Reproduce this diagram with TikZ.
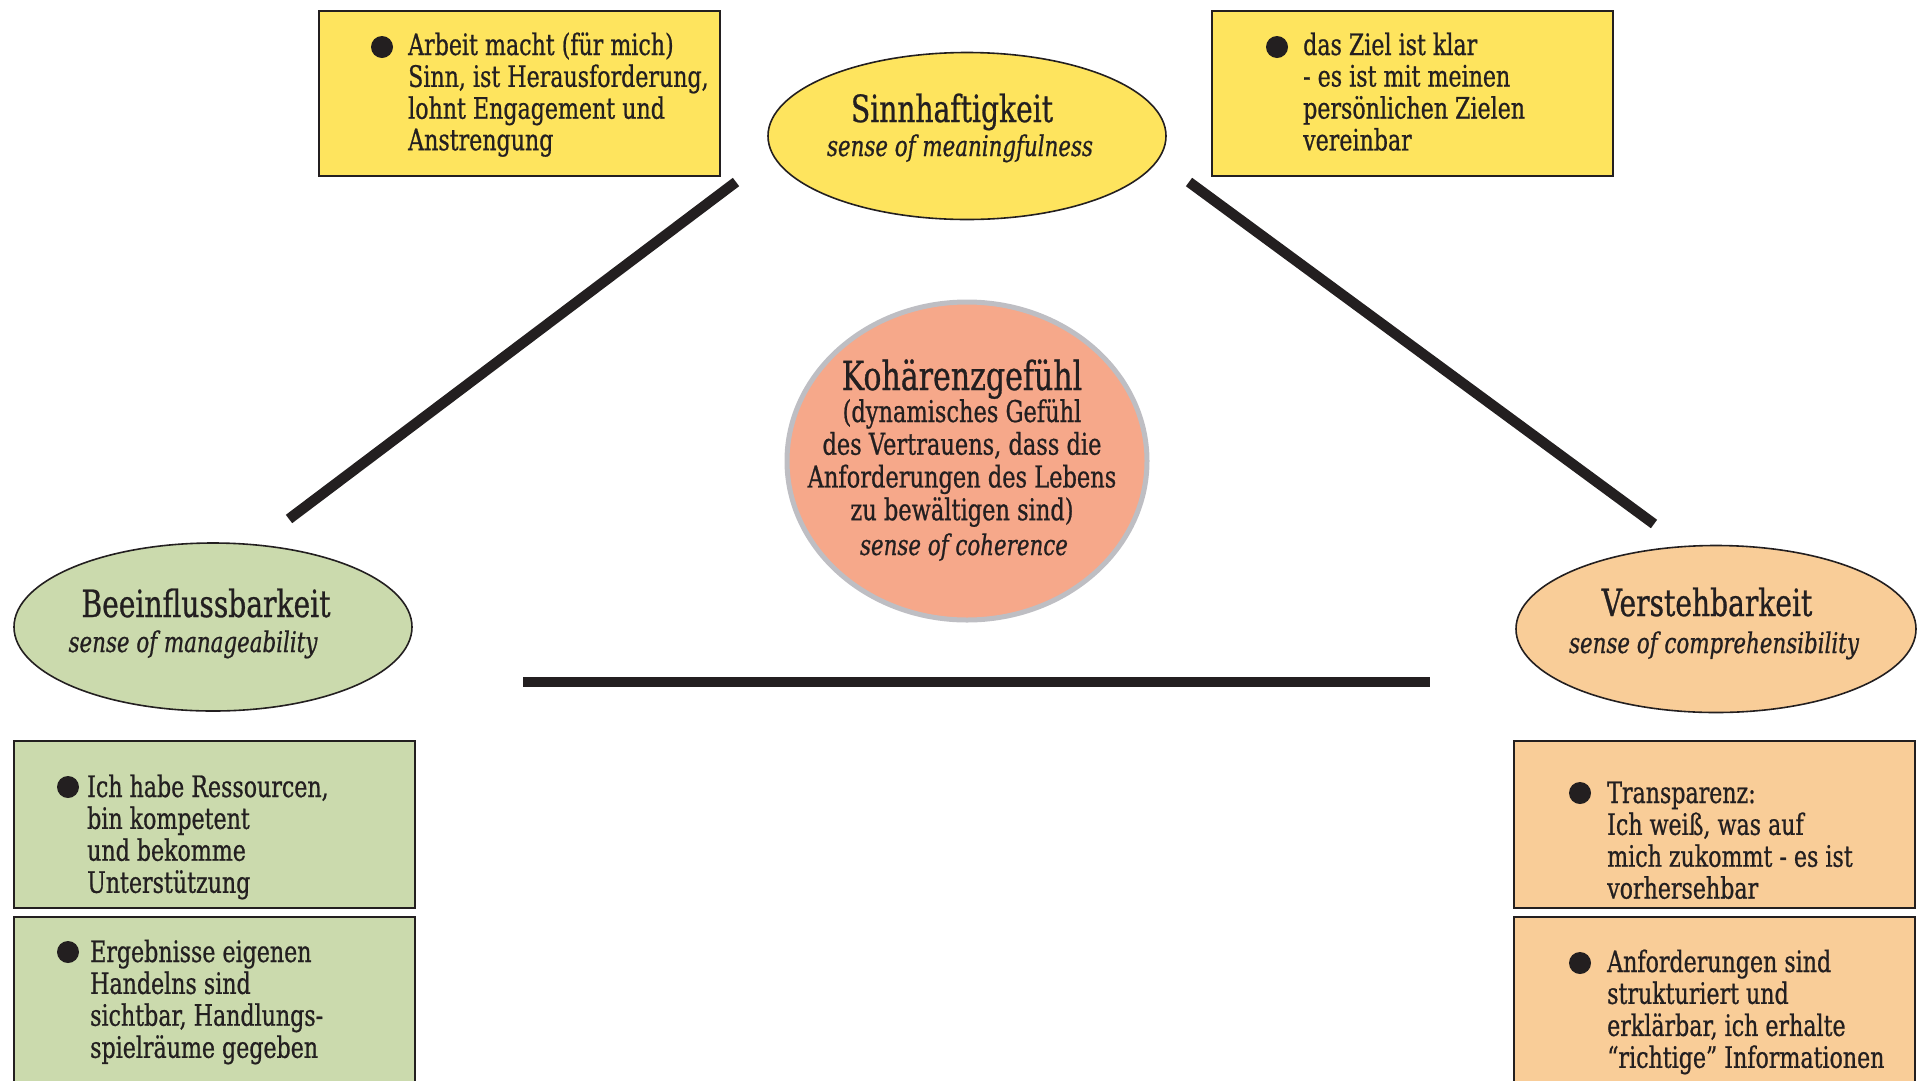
\documentclass[tikz,border=0pt]{standalone}
\usepackage{fontspec}
\setmainfont{DejaVu Serif}[FakeStretch=0.75, FakeBold=0.7]
\usetikzlibrary{shapes.geometric}
\definecolor{ink}{RGB}{35,31,32}
\definecolor{yellowc}{RGB}{254,228,94}
\definecolor{greenc}{RGB}{203,218,173}
\definecolor{orangec}{RGB}{249,205,152}
\definecolor{salmonc}{RGB}{246,168,138}
\definecolor{grayc}{RGB}{190,190,195}
\tikzset{
  ell/.style={ellipse, draw=ink, line width=1.6pt, inner sep=0pt},
  boxn/.style={rectangle, draw=ink, line width=2.2pt, inner sep=0pt, anchor=north west, minimum width=401pt},
  txt/.style={inner sep=0pt, anchor=base west, text=ink, font=\fontsize{29.5}{31.5}\selectfont},
  ttl/.style={inner sep=0pt, anchor=base, text=ink, font=\fontsize{37.5}{40}\selectfont},
  sub/.style={inner sep=0pt, anchor=base, text=ink, font=\itshape\fontsize{28.5}{30}\selectfont},
  bodyc/.style={inner sep=0pt, anchor=base, text=ink, font=\fontsize{30}{32.7}\selectfont},
  bar/.style={line width=10.5pt, draw=ink},
  bul/.style={circle, fill=ink, minimum size=22pt, inner sep=0pt}
}
\renewcommand{\arraystretch}{1}
\begin{document}
\begin{tikzpicture}[x=1pt, y=-1pt]
\useasboundingbox (0,0) rectangle (1920,1080);

% connectors
\coordinate (la) at (736,182);
\coordinate (lb) at (289,519);
\coordinate (ra) at (1189,182);
\coordinate (rb) at (1654,524);
\coordinate (ha) at (523,682);
\coordinate (hb) at (1430,682);
\draw[bar] (la) -- (lb);
\draw[bar] (ra) -- (rb);
\draw[bar] (ha) -- (hb);

% ellipses
\node[ell, fill=yellowc, minimum width=398pt, minimum height=167pt] (sinn) at (967,136) {};
\node[ttl] (sinnT) at (952,122) {Sinnhaftigkeit};
\node[sub] (sinnS) at (960,156) {sense of meaningfulness};

\node[ell, fill=greenc, minimum width=398pt, minimum height=168pt] (bein) at (213,627) {};
\node[ttl] (beinT) at (206,617) {Beeinflussbarkeit};
\node[sub] (beinS) at (193,652) {sense of manageability};

\node[ell, fill=orangec, minimum width=400pt, minimum height=167pt] (vers) at (1716,629) {};
\node[ttl] (versT) at (1707,616) {Verstehbarkeit};
\node[sub] (versS) at (1714,653) {sense of comprehensibility};

% centre
\node[ellipse, draw=grayc, line width=5pt, fill=salmonc, minimum width=360pt, minimum height=318pt, inner sep=0pt] (koh) at (967,461) {};
\node[ttl, font=\fontsize{40}{42}\selectfont] (kohT) at (962,390) {Kohärenzgefühl};
\node[bodyc] (kohB) at (962,422) {\begin{tabular}[t]{@{}c@{}}(dynamisches Gefühl\\des Vertrauens, dass die\\Anforderungen des Lebens\\zu bewältigen sind)\end{tabular}};
\node[sub] (kohS) at (964,555) {sense of coherence};

% top boxes
\node[boxn, fill=yellowc, minimum height=165pt] (tl) at (318,10) {};
\node[bul] (tlb) at (382,47) {};
\node[txt] (tlt) at (408,55) {\begin{tabular}[t]{@{}l@{}}Arbeit macht (für mich)\\Sinn, ist Herausforderung,\\lohnt Engagement und\\Anstrengung\end{tabular}};

\node[boxn, fill=yellowc, minimum height=165pt] (tr) at (1211,10) {};
\node[bul] (trb) at (1277,47) {};
\node[txt] (trt) at (1303,55) {\begin{tabular}[t]{@{}l@{}}das Ziel ist klar\\- es ist mit meinen\\persönlichen Zielen\\vereinbar\end{tabular}};

% left boxes
\node[boxn, fill=greenc, minimum height=167pt] (l1) at (13,740) {};
\node[bul] (l1b) at (68,787) {};
\node[txt] (l1t) at (87,797) {\begin{tabular}[t]{@{}l@{}}Ich habe Ressourcen,\\bin kompetent\\und bekomme\\Unterstützung\end{tabular}};

\node[boxn, fill=greenc, minimum height=180pt] (l2) at (13,916) {};
\node[bul] (l2b) at (68,952) {};
\node[txt] (l2t) at (90,962) {\begin{tabular}[t]{@{}l@{}}Ergebnisse eigenen\\Handelns sind\\sichtbar, Handlungs-\\spielräume gegeben\end{tabular}};

% right boxes
\node[boxn, fill=orangec, minimum height=167pt] (r1) at (1513,740) {};
\node[bul] (r1b) at (1580,793) {};
\node[txt] (r1t) at (1607,803) {\begin{tabular}[t]{@{}l@{}}Transparenz:\\Ich weiß, was auf\\mich zukommt - es ist\\vorhersehbar\end{tabular}};

\node[boxn, fill=orangec, minimum height=180pt] (r2) at (1513,916) {};
\node[bul] (r2b) at (1580,963) {};
\node[txt] (r2t) at (1607,972) {\begin{tabular}[t]{@{}l@{}}Anforderungen sind\\strukturiert und\\erklärbar, ich erhalte\\“richtige” Informationen\end{tabular}};
\end{tikzpicture}
\end{document}
